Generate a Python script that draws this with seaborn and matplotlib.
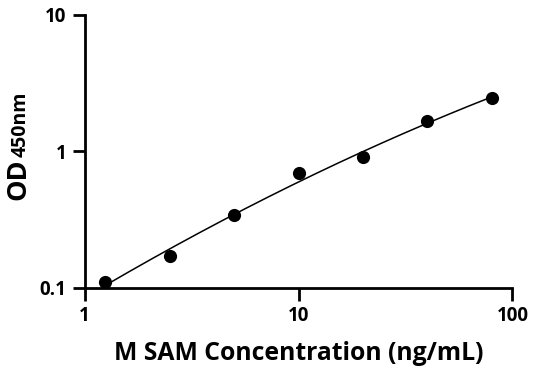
import numpy as np
import pandas as pd
import matplotlib
matplotlib.use("Agg")
import matplotlib.pyplot as plt
import seaborn as sns

conc = [1.25, 2.5, 5, 10, 20, 40, 80]
od = [0.111, 0.170, 0.342, 0.689, 0.907, 1.656, 2.48]
x_ticks = [1, 10, 100]
x_tick_labels = ["1", "10", "100"]
y_ticks = [0.1, 1, 10]
y_tick_labels = ["0.1", "1", "10"]

sns.set_theme(style="white")
plt.rcParams['font.family'] = ['Open Sans', 'DejaVu Sans']
plt.rcParams['font.weight'] = 'bold'

df = pd.DataFrame({"conc": conc, "od": od})

# regression curve in log-log space (fit from the data)
coef = np.polyfit(np.log10(df["conc"]), np.log10(df["od"]), 2)
xs = np.logspace(np.log10(min(conc)), np.log10(max(conc)), 200)
fit = pd.DataFrame({"conc": xs, "od": 10 ** np.polyval(coef, np.log10(xs))})

fig = plt.figure(figsize=(5.36, 3.71), dpi=100)
ax = fig.add_axes([0.158, 0.2245, 0.956 - 0.158, 0.9596 - 0.2245])

sns.lineplot(data=fit, x="conc", y="od", ax=ax, color="black", linewidth=1.1)
sns.scatterplot(data=df, x="conc", y="od", ax=ax, color="black", s=90,
                edgecolor="black", linewidth=0, zorder=3)

ax.set_xscale("log")
ax.set_yscale("log")
ax.set_xlim(1, 100)
ax.set_ylim(0.1, 10)
ax.set_xticks(x_ticks)
ax.set_xticklabels(x_tick_labels)
ax.set_yticks(y_ticks)
ax.set_yticklabels(y_tick_labels)
ax.minorticks_off()

for s in ["top", "right"]:
    ax.spines[s].set_visible(False)
for s in ["left", "bottom"]:
    ax.spines[s].set_color("black")
    ax.spines[s].set_linewidth(2.0)

ax.tick_params(axis="both", which="major", direction="out", length=9, width=2.0,
               color="black", labelsize=13.5, labelcolor="black", pad=4,
               bottom=True, left=True)
for lab in ax.get_xticklabels() + ax.get_yticklabels():
    lab.set_fontweight("bold")

ax.set_xlabel("M SAM Concentration (ng/mL)", fontsize=17.8, fontweight="bold",
              color="black", labelpad=11)
ax.set_ylabel("")

# y label: "OD" large, "450nm" smaller, sharing a baseline
base_x = 25.5 / 536
t1 = fig.text(base_x, 1 - 200 / 371, "OD", rotation=90, fontsize=19.5,
              fontweight="bold", ha="left", va="baseline", color="black",
              rotation_mode="anchor")
fig.canvas.draw()
bb = t1.get_window_extent(fig.canvas.get_renderer())
top_frac = bb.y1 / fig.bbox.height
fig.text(base_x, top_frac + 1 / 371, "450nm", rotation=90, fontsize=14,
         fontweight="bold", ha="left", va="baseline", color="black",
         rotation_mode="anchor")

fig.savefig("out.png", dpi=100)
